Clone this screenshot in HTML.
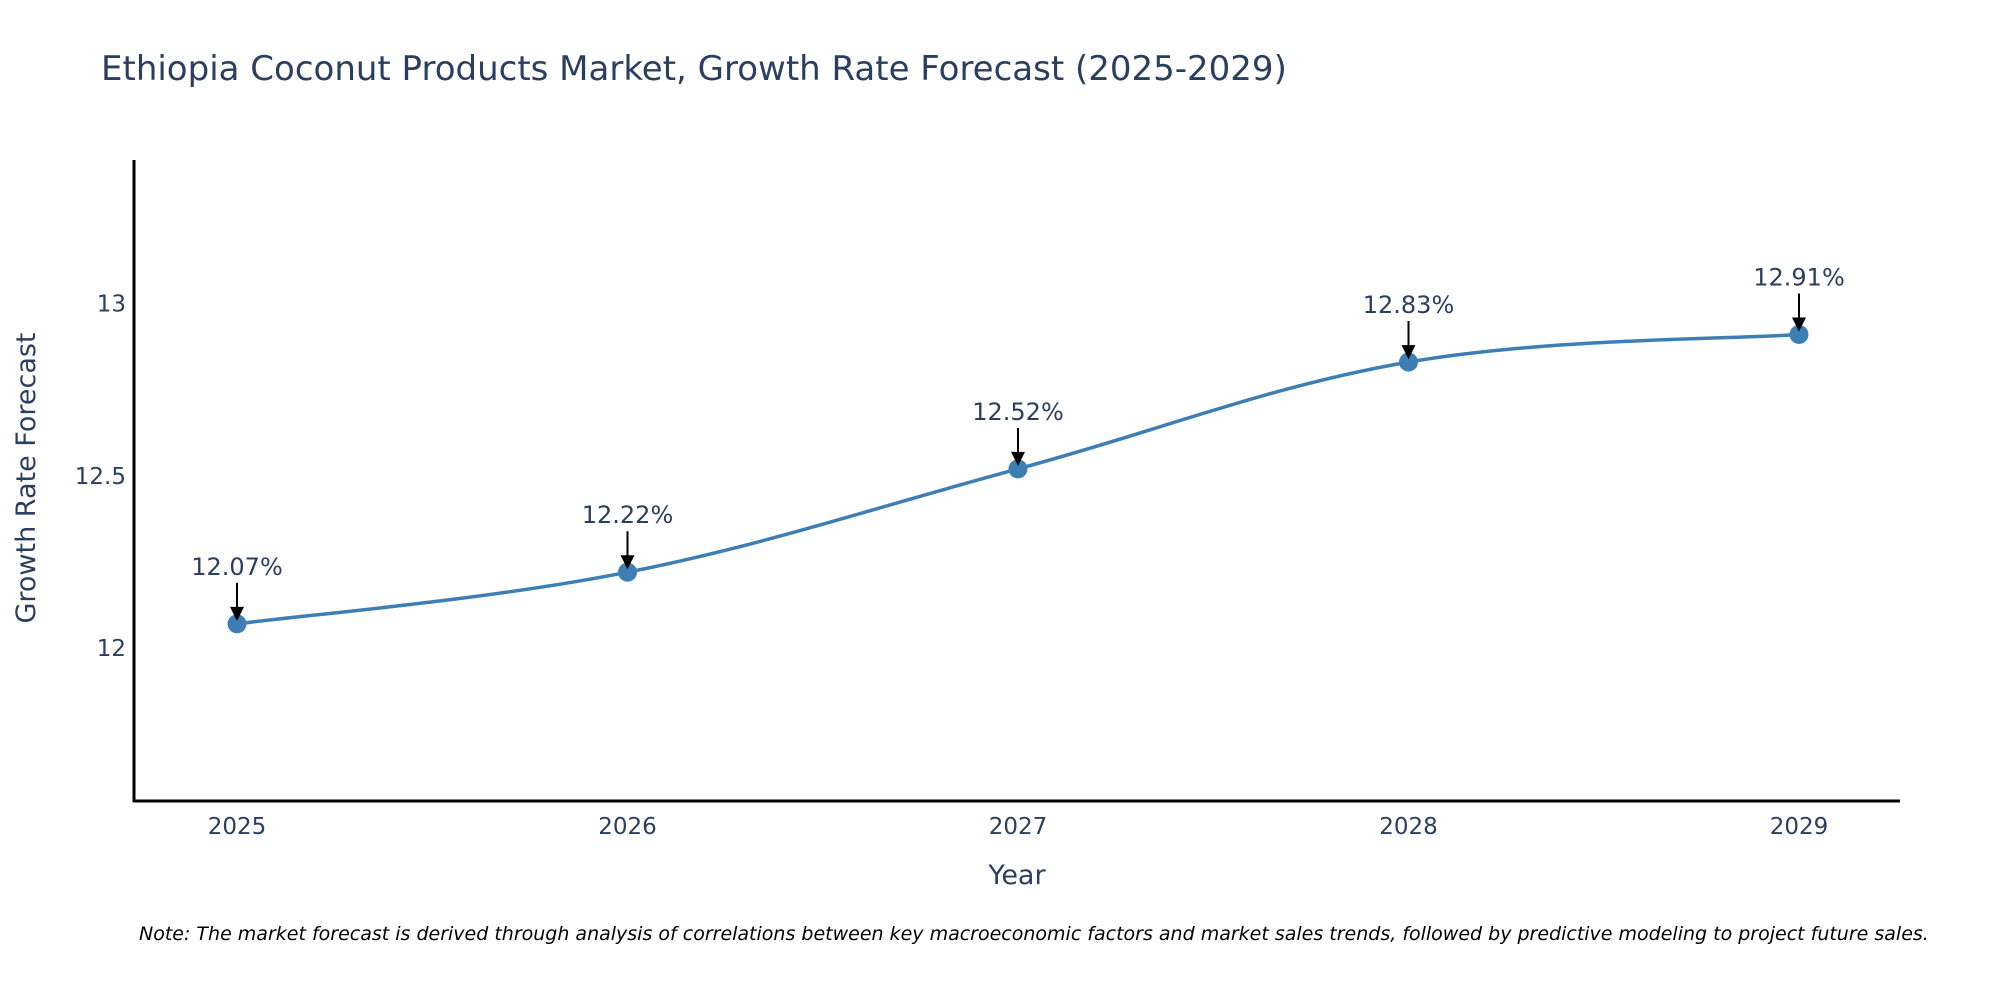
<!DOCTYPE html>
<html><head><meta charset="utf-8"><style>
body{margin:0;background:#fff;}
svg text{font-family:"DejaVu Sans","Liberation Sans",sans-serif;}
</style></head><body>
<svg id="chart" width="2000" height="1000" viewBox="0 0 2000 1000">
<text x="101" y="80" font-size="34" fill="#2a3f5f">Ethiopia Coconut Products Market, Growth Rate Forecast (2025-2029)</text>
<g id="yticks"></g>
<g id="xticks"></g>
<line x1="134" y1="160" x2="134" y2="802" stroke="#000" stroke-width="3"/>
<line x1="133" y1="801" x2="1900" y2="801" stroke="#000" stroke-width="3"/>
<text transform="translate(35,478) rotate(-90)" text-anchor="middle" font-size="27" fill="#2a3f5f">Growth Rate Forecast</text>
<text x="1017" y="884" text-anchor="middle" font-size="27" fill="#2a3f5f">Year</text>
<path id="line" fill="none" stroke="#3d7fb5" stroke-width="3.5"/>
<g id="points"></g>
<text x="139" y="940" font-size="19" font-style="italic" fill="#000">Note: The market forecast is derived through analysis of correlations between key macroeconomic factors and market sales trends, followed by predictive modeling to project future sales.</text>
</svg>
<script>
const years = [2025, 2026, 2027, 2028, 2029];
const values = [12.07, 12.22, 12.52, 12.83, 12.91];
const labels = ["12.07%", "12.22%", "12.52%", "12.83%", "12.91%"];
const yTickValues = [12, 12.5, 13];
const yTickLabels = ["12", "12.5", "13"];

const NS = "http://www.w3.org/2000/svg";
function xScale(yr){ return 237 + (yr - 2025) * 390.5; }
function yScale(v){ return 648 - (v - 12) * 344.5; }
function mk(tag, attrs, parent){ const e=document.createElementNS(NS,tag); for(const k in attrs) e.setAttribute(k,attrs[k]); parent.appendChild(e); return e; }

const yt = document.getElementById('yticks');
yTickValues.forEach((v,i)=>{
  const t = mk('text',{x:126,y:yScale(v)+8,'text-anchor':'end','font-size':23,fill:'#2a3f5f'},yt);
  t.textContent = yTickLabels[i];
  
  
});
const xt = document.getElementById('xticks');
years.forEach(yr=>{
  const t = mk('text',{x:xScale(yr),y:834,'text-anchor':'middle','font-size':23,fill:'#2a3f5f'},xt);
  t.textContent = String(yr);
  
  
});

const pts = years.map((yr,i)=>[xScale(yr), yScale(values[i])]);
let d = `M${pts[0][0]},${pts[0][1]}`;
const s = 0.18;
for(let i=0;i<pts.length-1;i++){
  const p0=pts[Math.max(0,i-1)], p1=pts[i], p2=pts[i+1], p3=pts[Math.min(pts.length-1,i+2)];
  const c1=[p1[0]+(p2[0]-p0[0])*s, p1[1]+(p2[1]-p0[1])*s];
  const c2=[p2[0]-(p3[0]-p1[0])*s, p2[1]-(p3[1]-p1[1])*s];
  d += ` C${c1[0]},${c1[1]} ${c2[0]},${c2[1]} ${p2[0]},${p2[1]}`;
}
document.getElementById('line').setAttribute('d', d);

const pg = document.getElementById('points');
pts.forEach((p,i)=>{
  const c = mk('circle',{cx:p[0],cy:p[1],r:9.5,fill:'#3d7fb5'},pg);
  
  
  const l = mk('line',{x1:p[0],y1:p[1]-41,x2:p[0],y2:p[1]-14,stroke:'#000','stroke-width':2},pg);
  
  
  const a = mk('polygon',{points:`${p[0]-7},${p[1]-17} ${p[0]+7},${p[1]-17} ${p[0]},${p[1]-3}`,fill:'#000'},pg);
  
  
  const t = mk('text',{x:p[0],y:p[1]-49,'text-anchor':'middle','font-size':24,fill:'#2a3f5f'},pg);
  t.textContent = labels[i];
  
  
});
</script>
</body></html>
